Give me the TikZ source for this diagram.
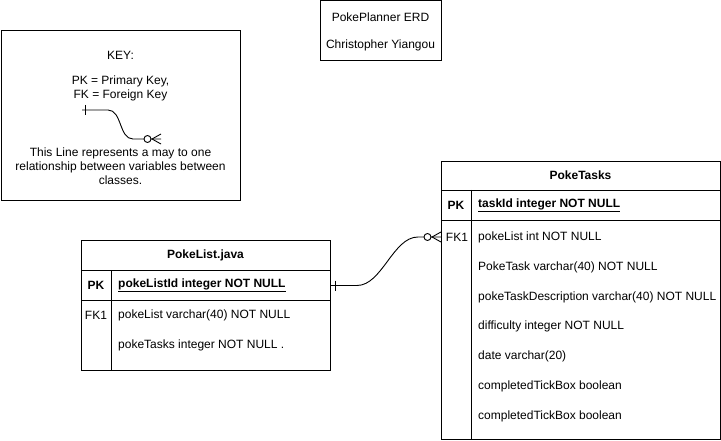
\documentclass[tikz,border=0pt]{standalone}
\usepackage{fontspec}
\setmainfont{Liberation Sans}
\usetikzlibrary{positioning}

\tikzset{
  every node/.style={font=\fontsize{12pt}{14pt}\selectfont},
  frame/.style={draw,line width=.9pt,inner sep=0pt,outer sep=0pt},
  field/.style={anchor=west,inner sep=0pt},
  keycol/.style={inner sep=0pt},
  relline/.style={line width=.9pt},
}

\begin{document}
\begin{tikzpicture}[x=1pt,y=-1pt]%
    \useasboundingbox (0,0) rectangle (721,441);
    % title box
    \node[frame,minimum width=121,minimum height=60] (title) at (380.5,30.5) {}; %%
    \node (titlea) at (380.5,17) {PokePlanner ERD}; %%
    \node (titleb) at (380.5,45) {Christopher Yiangou}; %%
    % key box
    \node[frame,minimum width=239,minimum height=170] (key) at (120.5,115) {}; %%
    \node (keyhead) at (120.5,55) {KEY:}; %%
    \node[align=center] (keypk) at (120.5,88.5) {PK = Primary Key,\\FK = Foreign Key}; %%
    \node[align=center] (keytext) at (120.5,166) {This Line represents a may to one\\relationship between variables between\\classes.}; %%
    \coordinate (ka) at (82,110); %%
    \coordinate (kb) at (161,139); %%
    \draw[relline] (ka) -- (108,110) .. controls (122,110) and (119,139) .. (133,139) -- (kb); %%
    \draw[relline] (85.5,105) -- (85.5,115); %%
    \draw[relline,fill=white] (147.5,139) circle (3.5); %%
    \draw[relline] (kb) ++(0,-5) -- (152,139) -- (161,144); %%
    % PokeList.java
    \node[frame,minimum width=249,minimum height=30] (listhead) at (205.5,255.5) {\bfseries PokeList.java}; %%
    \node[frame,minimum width=249,minimum height=30,below=0pt of listhead] (listpk) {}; %%
    \node[frame,minimum width=249,minimum height=70,below=0pt of listpk] (listbody) {}; %%
    \draw[line width=.9pt] (111,270.5) -- (111,370.5); %%
    \node[keycol] (listpkk) at (96,285.5) {\bfseries PK}; %%
    \node[field] (listid) at (118,285.5) {\bfseries\underline{pokeListId integer NOT NULL}}; %%
    \node[keycol] (listfk) at (96,315) {FK1}; %%
    \node[field] (listf1) at (118,315) {pokeList varchar(40) NOT NULL}; %%
    \node[field] (listf2) at (118,345) {pokeTasks integer NOT NULL .}; %%
    % PokeTasks
    \node[frame,minimum width=279,minimum height=29] (taskhead) at (580.5,175.5) {\bfseries PokeTasks}; %%
    \node[frame,minimum width=279,minimum height=30,below=0pt of taskhead] (taskpk) {}; %%
    \node[frame,minimum width=279,minimum height=219,below=0pt of taskpk] (taskbody) {}; %%
    \draw[line width=.9pt] (471,190) -- (471,439); %%
    \node[keycol] (taskpkk) at (456,205) {\bfseries PK}; %%
    \node[field] (taskid) at (478,205) {\bfseries\underline{taskId integer NOT NULL}}; %%
    \node[keycol] (taskfk) at (457,237) {FK1}; %%
    \node[field] (taskf1) at (478,237) {pokeList int NOT NULL}; %%
    \node[field] (taskf2) at (478,267) {PokeTask varchar(40) NOT NULL}; %%
    \node[field] (taskf3) at (478,297) {pokeTaskDescription varchar(40) NOT NULL}; %%
    \node[field] (taskf4) at (478,326) {difficulty integer NOT NULL}; %%
    \node[field] (taskf5) at (478,356) {date varchar(20)}; %%
    \node[field] (taskf6) at (478,386) {completedTickBox boolean}; %%
    \node[field] (taskf7) at (478,416) {completedTickBox boolean}; %%
    % relationship
    \coordinate (fkend) at (taskbody.west |- taskfk); %%
    \draw[relline] (listpk.east) -- (357,285.5) .. controls (382,285.5) and (393,237) .. (418,237) -- (fkend); %%
    \draw[relline] (335.5,280.5) -- (335.5,290.5); %%
    \draw[relline,fill=white] (427.5,237) circle (3.5); %%
    \draw[relline] (fkend) ++(0,-5) -- (432,237) -- ([yshift=-5pt]fkend); %%
\end{tikzpicture}
\end{document}
